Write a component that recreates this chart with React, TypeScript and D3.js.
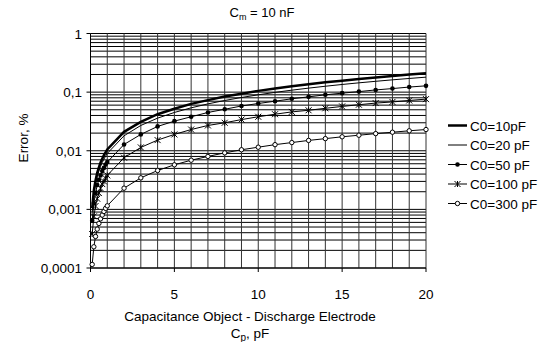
import * as React from "react";
import * as d3 from "d3";

// Cp, pF
const cpValues = [
  0.1, 0.2, 0.3, 0.4, 0.5, 0.6, 0.7, 0.8, 0.9, 1,
  2, 3, 4, 5, 6, 7, 8, 9, 10, 11, 12, 13, 14, 15, 16, 17, 18, 19, 20,
];

// Error, %
const errC0_10 = [
  0.00105, 0.0021, 0.0031, 0.0042, 0.0052, 0.0063, 0.0073, 0.0084, 0.0094, 0.0105,
  0.021, 0.031, 0.042, 0.052, 0.063, 0.073, 0.084, 0.094, 0.105, 0.115,
  0.126, 0.136, 0.147, 0.157, 0.168, 0.178, 0.189, 0.199, 0.21,
];
const errC0_20 = [
  0.0009, 0.0018, 0.0027, 0.0036, 0.0045, 0.0054, 0.0063, 0.0072, 0.0081, 0.009,
  0.018, 0.027, 0.036, 0.045, 0.054, 0.063, 0.072, 0.081, 0.09, 0.099,
  0.108, 0.117, 0.126, 0.135, 0.144, 0.153, 0.162, 0.171, 0.18,
];
const errC0_50 = [
  0.00064, 0.00128, 0.0019, 0.0026, 0.0032, 0.0038, 0.0045, 0.0051, 0.0058, 0.0064,
  0.0128, 0.019, 0.026, 0.032, 0.038, 0.045, 0.051, 0.058, 0.064, 0.07,
  0.077, 0.083, 0.09, 0.096, 0.102, 0.109, 0.115, 0.122, 0.128,
];
const errC0_100 = [
  0.00038, 0.00076, 0.00114, 0.00152, 0.0019, 0.0023, 0.0027, 0.003, 0.0034, 0.0038,
  0.0076, 0.0114, 0.0152, 0.019, 0.023, 0.027, 0.03, 0.034, 0.038, 0.042,
  0.046, 0.049, 0.053, 0.057, 0.061, 0.065, 0.068, 0.072, 0.076,
];
const errC0_300 = [
  0.000115, 0.00023, 0.000345, 0.00046, 0.000575, 0.00069, 0.0008, 0.00092, 0.00104, 0.00115,
  0.0023, 0.00345, 0.0046, 0.00575, 0.0069, 0.008, 0.0092, 0.0104, 0.0115, 0.0127,
  0.0138, 0.015, 0.0161, 0.0173, 0.0184, 0.0196, 0.0207, 0.0219, 0.023,
];

const seriesNames = ["C0=10pF", "C0=20 pF", "C0=50 pF", "C0=100 pF", "C0=300 pF"];
const seriesValues = [errC0_10, errC0_20, errC0_50, errC0_100, errC0_300];
const seriesMarkers = ["none", "none", "dot", "star", "circle"];

const xTicks = [0, 5, 10, 15, 20];
const yTicks = [1, 0.1, 0.01, 0.001, 0.0001];
const yTickLabels = ["1", "0,1", "0,01", "0,001", "0,0001"];

const W = 547;
const H = 342;
const FONT = "'Liberation Sans', Arial, sans-serif";

const x = d3.scaleLinear().domain([0, 20]).range([90.5, 426]);
const y = d3.scaleLog().domain([0.0001, 1]).range([268, 33.5]);

function Marker({ kind, cx, cy }: { kind: string; cx: number; cy: number }) {
  if (kind === "dot") return <circle cx={cx} cy={cy} r={2.3} fill="#000" />;
  if (kind === "circle")
    return <circle cx={cx} cy={cy} r={2.2} fill="#fff" stroke="#000" strokeWidth={1} />;
  if (kind === "star") {
    const s = 3;
    return (
      <path
        d={`M${cx - s},${cy - s}L${cx + s},${cy + s}M${cx - s},${cy + s}L${cx + s},${cy - s}M${cx},${cy - s}L${cx},${cy + s}`}
        stroke="#000"
        strokeWidth={1}
      />
    );
  }
  return null;
}

export default function App() {
  const line = d3
    .line<number>()
    .x((_, i) => x(cpValues[i]))
    .y((d) => y(d));

  const minorY: number[] = [];
  for (let e = -4; e < 0; e++) {
    for (let m = 1; m <= 9; m++) minorY.push(m * Math.pow(10, e));
  }
  const xGrid = d3.range(0, 21);

  const legendY = [125.5, 145, 164.5, 184, 203.5];

  return (
    <svg
      width={W}
      height={H}
      style={{ position: "absolute", left: 0, top: 0, background: "#fff" }}
      fontFamily={FONT}
    >
      <rect width={W} height={H} fill="#fff" />

      {/* title */}
      <text x={262} y={17} fontSize={13} textAnchor="middle">
        C<tspan fontSize={9} dy={3}>m</tspan>
        <tspan dy={-3}> = 10 nF</tspan>
      </text>

      {/* grid */}
      {minorY.map((v) => (
        <line key={"h" + v} x1={x(0)} x2={x(20)} y1={y(v)} y2={y(v)} stroke="#000" strokeWidth={1} />
      ))}
      <line x1={x(0)} x2={x(20)} y1={y(1)} y2={y(1)} stroke="#000" />
      {xGrid.map((v) => (
        <line key={"v" + v} x1={x(v)} x2={x(v)} y1={y(1)} y2={y(0.0001)} stroke="#333" strokeWidth={1} />
      ))}

      {/* axes */}
      <line x1={x(0)} x2={x(0)} y1={y(1)} y2={y(0.0001)} stroke="#000" />
      <line x1={x(0)} x2={x(20)} y1={y(0.0001)} y2={y(0.0001)} stroke="#000" />
      {yTicks.map((v, i) => (
        <g key={"yt" + v}>
          <line x1={x(0) - 4} x2={x(0)} y1={y(v)} y2={y(v)} stroke="#000" />
          <text x={82} y={y(v) + 5} fontSize={13.5} textAnchor="end">
            {yTickLabels[i]}
          </text>
        </g>
      ))}
      {xTicks.map((v) => (
        <g key={"xt" + v}>
          <line x1={x(v)} x2={x(v)} y1={y(0.0001)} y2={y(0.0001) + 4} stroke="#000" />
          <text x={x(v)} y={299} fontSize={13.5} textAnchor="middle">
            {v}
          </text>
        </g>
      ))}

      {/* series */}
      {seriesValues.map((vals, si) => (
        <g key={"s" + si}>
          <path d={line(vals) ?? ""} fill="none" stroke="#000" strokeWidth={si === 0 ? 2.5 : 1} />
          {vals.map((v, i) => (
            <Marker key={i} kind={seriesMarkers[si]} cx={x(cpValues[i])} cy={y(v)} />
          ))}
        </g>
      ))}

      {/* axis titles */}
      <text x={250} y={321} fontSize={13.5} textAnchor="middle">
        Capacitance Object - Discharge Electrode
      </text>
      <text x={250} y={338} fontSize={13.5} textAnchor="middle">
        C<tspan fontSize={10} dy={3}>p</tspan>
        <tspan dy={-3}>, pF</tspan>
      </text>
      <text transform={`translate(28,138) rotate(-90)`} fontSize={13.5} textAnchor="middle">
        Error, %
      </text>

      {/* legend */}
      {seriesNames.map((name, i) => (
        <g key={"l" + i}>
          <line x1={448} x2={467} y1={legendY[i]} y2={legendY[i]} stroke="#000" strokeWidth={i === 0 ? 2.5 : 1} />
          <Marker kind={seriesMarkers[i]} cx={457.5} cy={legendY[i]} />
          <text x={470} y={legendY[i] + 5} fontSize={13.5}>
            {name}
          </text>
        </g>
      ))}
    </svg>
  );
}
